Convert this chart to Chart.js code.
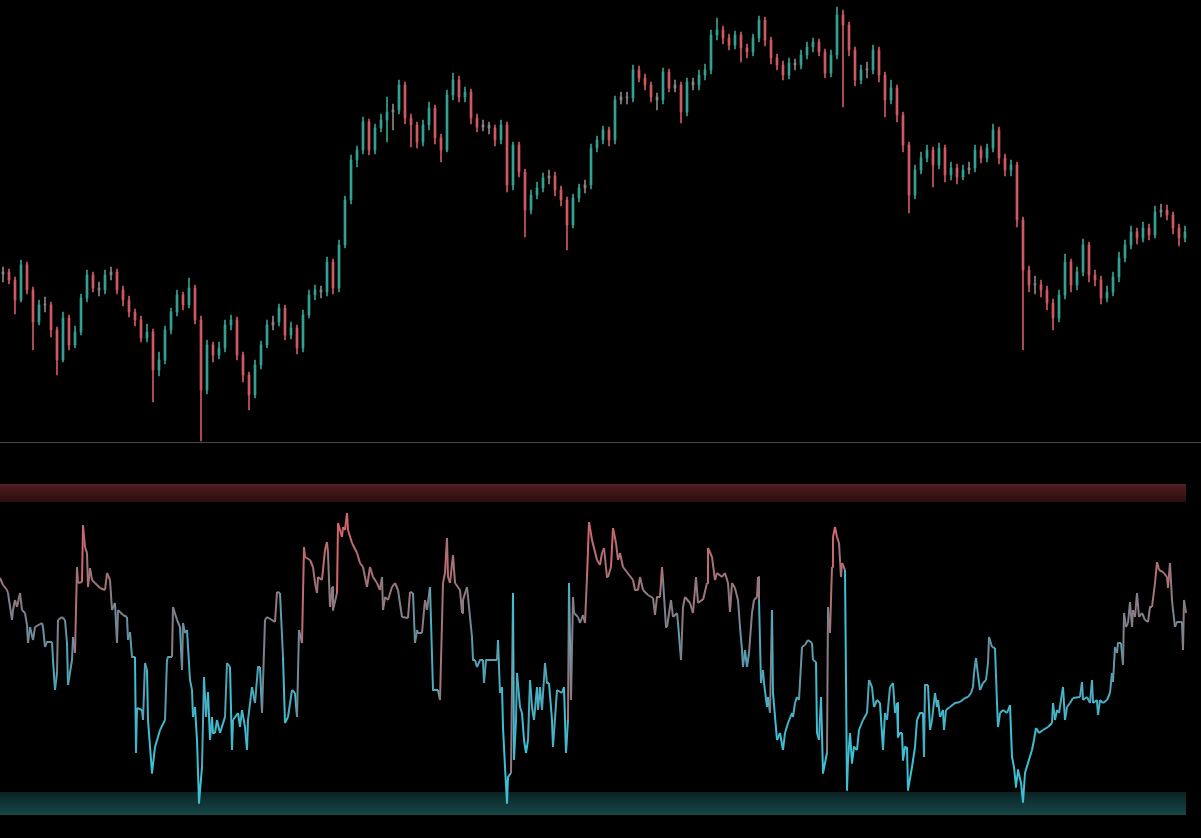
<!DOCTYPE html>
<html>
<head>
<meta charset="utf-8">
<script src="https://cdn.jsdelivr.net/npm/chart.js@4.4.1/dist/chart.umd.min.js"></script>
<style>
html,body{margin:0;padding:0;background:#000;width:1201px;height:838px;overflow:hidden;}
#top{position:absolute;left:0;top:0;width:1188px;height:442px;}
#sep{position:absolute;left:0;top:442px;width:1201px;height:1px;background:#474747;}
#bot{position:absolute;left:0;top:442px;width:1188px;height:396px;}
</style>
</head>
<body>
<div id="top"><canvas id="c1" width="1188" height="442"></canvas></div>
<div id="sep"></div>
<div id="bot"><canvas id="c2" width="1188" height="396"></canvas></div>
<script>
// ---- price candles (one bar per 6 time units) ----
const opens = [
168,170,162,142,177,152,120,137,137,112,
82,124,97,110,144,167,154,152,167,170,
152,142,130,122,104,110,72,82,112,130,
147,137,154,122,52,97,87,94,117,122,
87,67,47,77,97,117,120,134,107,114,
94,127,147,152,150,180,154,197,242,282,
292,320,292,314,322,330,332,357,324,317,
300,317,334,304,292,347,362,345,350,324,
315,317,314,302,317,257,297,270,232,247,
254,264,266,252,242,217,244,254,257,294,
302,312,302,342,345,344,372,364,357,345,
342,370,354,357,330,360,357,367,372,407,
412,404,397,407,394,390,404,422,402,384,
377,367,379,377,387,395,400,390,369,387,
427,417,392,362,372,372,392,367,342,354,
327,297,247,272,284,292,277,294,267,274,
265,272,274,292,284,294,312,284,272,277,
222,172,157,157,152,139,124,147,180,157,
170,197,167,162,144,150,165,184,197,210,
204,214,207,230,232,227,214,204];
const closes = [
170,162,142,177,152,120,137,137,112,82,
124,97,110,144,167,154,152,167,170,152,
142,130,122,104,110,72,82,112,130,147,
137,154,122,52,97,87,94,117,122,87,
67,47,77,97,117,120,134,107,114,94,
127,147,152,150,180,154,197,242,282,292,
320,292,314,322,330,332,357,324,317,300,
317,334,304,292,347,362,345,350,324,315,
317,314,302,317,257,297,270,232,247,254,
264,266,252,242,217,244,254,257,294,302,
312,302,342,345,344,372,364,357,345,342,
370,354,357,330,360,357,367,372,407,412,
404,397,407,394,390,404,422,402,384,377,
367,379,377,387,395,400,390,369,387,427,
417,392,362,372,372,392,367,342,354,327,
297,247,272,284,292,277,294,267,274,265,
272,274,292,284,294,312,284,272,277,222,
172,157,157,152,139,124,147,180,157,170,
197,167,162,144,150,165,184,197,210,204,
214,207,230,232,227,214,204,210];
const highs = [
175,173,165,182,180,155,142,145,140,115,
130,127,116,148,172,170,160,172,175,173,
156,146,133,126,118,113,90,116,134,152,
150,164,157,126,102,100,100,122,127,125,
90,70,82,101,122,126,138,137,120,117,
132,152,157,156,185,183,202,246,287,296,
325,323,318,328,345,338,362,360,328,320,
322,340,337,308,352,369,366,355,353,328,
322,320,317,322,320,300,300,273,252,260,
269,272,270,256,245,248,258,262,298,306,
316,315,346,350,350,377,376,368,360,349,
374,373,362,360,364,364,372,378,412,424,
416,408,411,410,398,408,426,425,405,388,
381,384,383,392,400,404,403,393,392,435,
432,420,395,377,380,397,395,370,362,357,
330,300,277,290,297,295,299,297,280,278,
277,280,297,296,298,318,315,288,282,280,
225,176,166,162,156,143,152,188,183,175,
203,200,172,166,156,170,190,202,216,214,
220,218,236,238,237,230,218,216];
const lows = [
160,158,128,140,148,92,117,130,105,67,
80,92,94,107,140,150,146,148,162,148,
136,125,116,100,100,40,66,78,108,126,
132,134,118,1,48,80,83,90,112,82,
60,32,44,73,94,112,116,102,103,88,
90,124,142,144,146,148,150,194,238,275,
288,287,288,310,300,312,328,318,295,294,
296,312,298,280,290,342,340,340,318,310,
311,308,296,298,250,252,265,205,228,243,
250,258,246,236,192,214,240,249,253,290,
298,296,298,338,338,340,360,352,340,332,
338,350,350,319,326,352,352,362,368,402,
398,392,393,380,384,386,400,396,378,372,
362,363,372,373,383,390,386,364,365,383,
335,386,356,358,364,368,360,325,338,320,
290,229,243,268,280,255,273,260,262,258,
262,268,270,279,280,290,278,266,266,215,
92,150,148,145,132,112,120,143,150,152,
166,160,156,138,140,146,160,180,193,198,
200,202,204,225,222,208,196,200];
const priceRange = [0, 442];

// ---- oscillator: [time, value] vertices ----
const oscillator = [
[-3,225],[0,218],[4,213],[5,210],[9,183],[10,193],[12,203],[14,196],[17,210],[19,193],[22,190],[24,178],[25,160],[27,176],[30,163],[32,176],[39,180],[40,176],[42,156],[44,161],[49,161],[50,143],[52,113],[54,130],[55,183],[59,186],[62,183],[64,160],[65,118],[69,143],[70,166],[72,150],[74,236],[75,220],[79,221],[80,278],[82,256],[84,250],[85,216],[87,235],[89,223],[92,220],[97,215],[102,213],[104,230],[107,223],[109,193],[112,200],[114,160],[115,193],[120,188],[124,186],[125,163],[127,171],[129,146],[132,146],[133,50],[134,95],[139,93],[140,83],[142,140],[144,133],[145,83],[149,30],[152,56],[155,66],[157,73],[162,83],[164,143],[165,146],[169,146],[170,196],[174,183],[177,176],[179,133],[180,180],[182,170],[184,173],[187,123],[189,113],[190,86],[192,96],[194,63],[196,0],[199,36],[201,126],[203,86],[205,111],[207,63],[209,86],[210,70],[212,70],[214,83],[217,70],[222,86],[224,140],[227,136],[229,53],[230,83],[235,90],[237,76],[239,93],[242,76],[244,53],[245,83],[249,116],[252,100],[255,136],[257,136],[259,90],[262,183],[264,186],[272,181],[274,211],[277,210],[280,146],[282,80],[285,86],[289,113],[292,110],[294,86],[296,173],[299,160],
[301,256],[302,246],[307,243],[310,236],[312,220],[314,210],[315,226],[319,223],[322,253],[324,261],[325,250],[327,196],[329,216],[330,193],[334,210],[335,280],[339,266],[340,276],[342,273],[344,290],[345,273],[349,260],[354,250],[357,240],[360,236],[364,216],[367,236],[370,226],[374,220],[377,213],[379,226],[380,193],[382,206],[385,203],[389,216],[392,220],[395,213],[399,186],[405,185],[407,211],[410,210],[412,160],[414,173],[415,170],[419,170],[422,203],[424,193],[427,216],[430,113],[435,113],[437,103],[440,220],[442,230],[444,265],[445,226],[447,220],[450,248],[452,220],[457,213],[459,190],[460,203],[464,216],[467,186],[469,166],[470,143],[472,143],[474,136],[477,143],[480,143],[481,120],[483,143],[489,143],[494,143],[495,163],[497,110],[499,116],[500,76],[502,36],[504,0],[505,26],[508,30],[510,210],[511,43],[513,83],[514,130],[517,96],[519,90],[521,63],[523,50],[525,63],[527,123],[529,96],[531,83],[534,116],[535,93],[537,116],[539,93],[542,140],[544,120],[546,120],[549,83],[550,56],[554,113],[559,110],[561,116],[563,50],[565,83],[566,220],[568,103],[570,206],[571,190],[575,186],[577,180],[580,188],[582,180],[584,226],[586,281],[589,263],[594,243],[597,238],
[599,250],[601,255],[604,226],[605,226],[608,236],[610,275],[613,260],[615,243],[617,250],[620,236],[630,223],[632,213],[635,213],[637,226],[640,213],[645,208],[650,205],[652,188],[654,206],[657,206],[659,236],[660,223],[663,176],[664,176],[668,203],[670,186],[674,190],[675,180],[678,143],[680,196],[682,206],[687,200],[690,190],[693,226],[695,200],[699,203],[700,203],[704,220],[705,255],[709,246],[712,223],[714,230],[719,226],[722,230],[725,220],[727,191],[729,220],[732,215],[735,203],[737,176],[739,153],[740,136],[742,153],[744,136],[746,150],[749,190],[751,203],[754,206],[755,226],[756,203],[758,120],[760,133],[761,120],[764,96],[765,106],[767,90],[769,193],[770,110],[774,63],[777,70],[780,53],[782,70],[785,80],[789,90],[790,86],[792,100],[794,106],[796,103],[799,156],[802,158],[805,163],[809,160],[810,143],[813,141],[814,70],[816,63],[818,106],[820,30],[822,40],[824,50],[825,196],[827,170],[829,236],[830,266],[832,276],[834,266],[836,260],[838,226],[839,240],[842,233],[844,13],[845,43],[847,70],[849,40],[851,56],[854,53],[856,73],[860,83],[864,90],[866,123],[869,116],[871,96],[874,103],[877,100],[880,53],[882,90],[884,83],[887,116],[890,120],[892,90],[894,100],[895,66],[897,70],
[899,70],[900,43],[902,56],[904,55],[905,13],[909,36],[912,56],[914,83],[917,90],[920,90],[921,46],[922,118],[925,118],[927,73],[929,83],[932,110],[934,96],[935,103],[937,86],[940,93],[941,73],[943,93],[947,96],[952,100],[957,101],[962,105],[965,106],[968,110],[970,116],[971,130],[973,145],[975,128],[977,113],[980,120],[983,123],[985,140],[986,166],[989,156],[992,155],[994,100],[995,76],[997,90],[1000,93],[1004,90],[1007,98],[1009,46],[1011,36],[1013,16],[1015,33],[1018,20],[1020,1],[1022,30],[1025,40],[1029,53],[1031,63],[1033,75],[1036,70],[1040,73],[1045,76],[1049,80],[1050,100],[1052,83],[1054,93],[1056,90],[1060,116],[1062,83],[1064,96],[1067,100],[1070,105],[1077,106],[1079,121],[1080,103],[1084,106],[1087,100],[1089,123],[1090,100],[1094,103],[1095,88],[1097,103],[1100,100],[1104,103],[1107,110],[1109,130],[1110,121],[1112,156],[1114,150],[1115,160],[1118,160],[1120,138],[1121,190],[1123,176],[1125,180],[1127,201],[1129,176],[1130,193],[1132,186],[1134,210],[1136,186],[1139,190],[1142,183],[1145,181],[1147,196],[1149,196],[1152,220],[1154,241],[1156,233],[1160,231],[1164,226],[1165,215],[1167,240],[1169,203],[1170,193],[1172,176],[1174,181],[1179,181],[1180,153],[1181,203],[1183,190]
];
const upperBand = [301, 319];   // overbought zone
const lowerBand = [-12, 11];    // oversold zone
const bandSpan = [-3, 1183];    // time range of the zones
const oscRange = [-35, 361];
const timeRange = [-3, 1185];

// ---- styling ----
const UP = 'rgb(52,160,146)', DOWN = 'rgb(208,88,96)', FLAT = 'rgb(136,134,136)';
function candleColor(i){
  const d = closes[i] - opens[i];
  if (Math.abs(d) <= 3) return FLAT;
  return d > 0 ? UP : DOWN;
}
const labels = closes.map((_, i) => i * 6);

new Chart(document.getElementById('c1'), {
  type: 'bar',
  data: {
    labels,
    datasets: [
      { data: opens.map((o, i) => [o, closes[i]]), grouped: false, barThickness: 2, minBarLength: 1,
        backgroundColor: c => candleColor(c.dataIndex), borderWidth: 0 },
      { data: lows.map((l, i) => [l, highs[i]]), grouped: false, barThickness: 1,
        backgroundColor: c => candleColor(c.dataIndex), borderWidth: 0 }
    ]
  },
  options: {
    responsive: false, animation: false,
    layout: { padding: 0 },
    plugins: { legend: { display: false }, tooltip: { enabled: false } },
    scales: {
      x: { display: false, offset: true, grid: { display: false } },
      y: { display: false, min: priceRange[0], max: priceRange[1], grid: { display: false } }
    }
  }
});

const stops = [[60,[62,192,212]],[140,[84,160,180]],[185,[126,128,138]],[225,[166,114,120]],[280,[212,102,108]]];
function oscColor(v){
  if (v <= stops[0][0]) return 'rgb(' + stops[0][1].join(',') + ')';
  for (let k = 1; k < stops.length; k++){
    if (v <= stops[k][0]){
      const [a, ca] = stops[k-1], [b, cb] = stops[k];
      const f = (v - a) / (b - a);
      return 'rgb(' + ca.map((x, j) => Math.round(x + (cb[j] - x) * f)).join(',') + ')';
    }
  }
  return 'rgb(' + stops[stops.length-1][1].join(',') + ')';
}
function bandGradient(band, colors){
  return c => {
    const ch = c.chart;
    if (!ch.chartArea) return 'rgba(0,0,0,0)';
    const y0 = ch.scales.y.getPixelForValue(band[1]);
    const y1 = ch.scales.y.getPixelForValue(band[0]);
    const g = ch.ctx.createLinearGradient(0, y0, 0, y1);
    colors.forEach(([p, col]) => g.addColorStop(p, col));
    return g;
  };
}

new Chart(document.getElementById('c2'), {
  type: 'line',
  data: {
    datasets: [
      { data: oscillator.map(([t, v]) => ({ x: t, y: v })), borderWidth: 2, pointRadius: 0, tension: 0,
        borderColor: 'rgb(126,128,138)', fill: false, borderJoinStyle: 'round',
        segment: { borderColor: c => oscColor(c.p1.parsed.y) } },
      { data: bandSpan.map(t => ({ x: t, y: upperBand[1] })), borderWidth: 0, pointRadius: 0,
        fill: { value: upperBand[0] },
        backgroundColor: bandGradient(upperBand, [[0,'#5a2023'],[0.15,'#4a1a1c'],[0.6,'#3a1416'],[1,'#2a0f10']]) },
      { data: bandSpan.map(t => ({ x: t, y: lowerBand[1] })), borderWidth: 0, pointRadius: 0,
        fill: { value: lowerBand[0] },
        backgroundColor: bandGradient(lowerBand, [[0,'#0a2224'],[0.35,'#0e3032'],[1,'#164547']]) }
    ]
  },
  options: {
    responsive: false, animation: false,
    layout: { padding: 0 },
    plugins: { legend: { display: false }, tooltip: { enabled: false } },
    scales: {
      x: { type: 'linear', display: false, min: timeRange[0], max: timeRange[1] },
      y: { display: false, min: oscRange[0], max: oscRange[1] }
    }
  }
});
</script>
</body>
</html>
